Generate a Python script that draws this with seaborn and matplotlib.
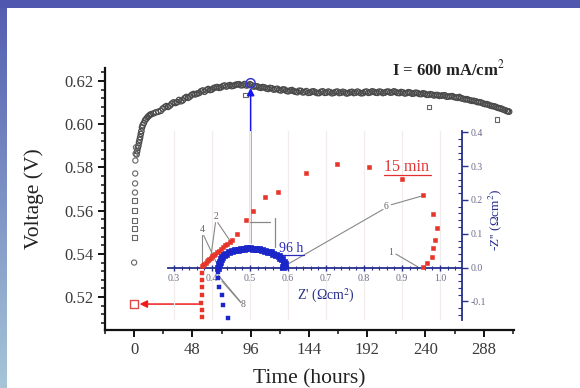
import matplotlib
matplotlib.use("Agg")
import numpy as np
import pandas as pd
import seaborn as sns
import matplotlib.pyplot as plt
from matplotlib.ticker import MultipleLocator, FormatStrFormatter

# ---------------- cell voltage at I = 600 mA/cm2 ----------------
# first hour of operation (voltage climbing after start-up)
t_col_sq = [0.2, 0.3, 0.4, 0.5, 0.6]
v_col_sq = [0.5477, 0.5519, 0.5556, 0.5602, 0.5648]
t_col_o = [0.0, 0.7, 0.8, 0.9, 1.0, 1.2, 1.5]
v_col_o = [0.536, 0.5684, 0.5726, 0.5772, 0.5832, 0.5864, 0.5893]

# continuous record
t_run = [2, 2.5, 3, 3.5, 4, 4.5, 5, 5.5, 6, 6.5, 7, 8, 9, 10, 11, 12, 13, 14, 16, 18, 20,
         22, 25, 28, 31, 34, 37, 40, 43, 46, 49, 52, 55, 58, 61, 64, 67, 70, 73, 76, 79,
         82, 85, 88, 91, 94, 97, 100, 103, 106, 109, 112, 115, 118, 121, 124, 127, 130,
         133, 136, 139, 142, 145, 148, 151, 154, 157, 160, 163, 166, 169, 172, 175, 178,
         181, 184, 187, 190, 193, 196, 199, 202, 205, 208, 211, 214, 217, 220, 223, 226,
         229, 232, 235, 238, 241, 244, 247, 250, 253, 256, 259, 262, 265, 268, 271, 274,
         277, 280, 283, 286, 289, 292, 295, 298, 301, 304, 307, 309]
v_run = [0.5860, 0.5875, 0.5890, 0.5900, 0.5915, 0.5928, 0.5940, 0.5955, 0.5968, 0.5985,
         0.5995, 0.6005, 0.6018, 0.6025, 0.6032, 0.6038, 0.6043, 0.6046, 0.6050, 0.6055,
         0.6058, 0.6062, 0.6078, 0.6080, 0.6095, 0.6098, 0.6112, 0.6110, 0.6126, 0.6128,
         0.6140, 0.6142, 0.6152, 0.6150, 0.6163, 0.6160, 0.6170, 0.6168, 0.6176, 0.6174,
         0.6181, 0.6178, 0.6184, 0.6180, 0.6186, 0.6181, 0.6180, 0.6176, 0.6170, 0.6172,
         0.6165, 0.6168, 0.6160, 0.6164, 0.6156, 0.6160, 0.6152, 0.6158, 0.6150, 0.6155,
         0.6147, 0.6153, 0.6146, 0.6152, 0.6144, 0.6150, 0.6145, 0.6151, 0.6143, 0.6149,
         0.6144, 0.6150, 0.6142, 0.6148, 0.6144, 0.6151, 0.6143, 0.6149, 0.6145, 0.6152,
         0.6146, 0.6151, 0.6144, 0.6150, 0.6146, 0.6152, 0.6145, 0.6149, 0.6142, 0.6148,
         0.6141, 0.6146, 0.6140, 0.6143, 0.6136, 0.6139, 0.6133, 0.6135, 0.6132, 0.6134,
         0.6128, 0.6130, 0.6124, 0.6126, 0.6118, 0.6116, 0.6110, 0.6108, 0.6102, 0.6100,
         0.6093, 0.6090, 0.6084, 0.6080, 0.6074, 0.6068, 0.6061, 0.6058]

# readings logged in between the ones above
t_run_b = [23.5, 26.5, 29.5, 32.5, 35.5, 38.5, 41.5, 44.5, 47.5, 50.5, 53.5, 56.5, 59.5,
           62.5, 65.5, 68.5, 71.5, 74.5, 77.5, 80.5, 83.5, 86.5, 89.5, 92.5, 95.5, 98.5,
           101.5, 104.5, 107.5, 110.5, 113.5, 116.5, 119.5, 122.5, 125.5, 128.5, 131.5,
           134.5, 137.5, 140.5, 143.5, 146.5, 149.5, 152.5, 155.5, 158.5, 161.5, 164.5,
           167.5, 170.5, 173.5, 176.5, 179.5, 182.5, 185.5, 188.5, 191.5, 194.5, 197.5,
           200.5, 203.5, 206.5, 209.5, 212.5, 215.5, 218.5, 221.5, 224.5, 227.5, 230.5,
           233.5, 236.5, 239.5, 242.5, 245.5, 248.5, 251.5, 254.5, 257.5, 260.5, 263.5,
           266.5, 269.5, 272.5, 275.5, 278.5, 281.5, 284.5, 287.5, 290.5, 293.5, 296.5,
           299.5, 302.5, 305.5, 308.0]
v_run_b = [0.6072, 0.6084, 0.6086, 0.6101, 0.6102, 0.6106, 0.6120, 0.6122, 0.6136, 0.6138,
           0.6144, 0.6156, 0.6157, 0.6158, 0.6167, 0.6172, 0.6170, 0.6179, 0.6178, 0.6176,
           0.6182, 0.6185, 0.6181, 0.6179, 0.6185, 0.6174, 0.6175, 0.6168, 0.6170, 0.6163,
           0.6166, 0.6162, 0.6158, 0.6161, 0.6154, 0.6156, 0.6153, 0.6148, 0.6154, 0.6149,
           0.6145, 0.6151, 0.6147, 0.6144, 0.6152, 0.6146, 0.6148, 0.6145, 0.6151, 0.6146,
           0.6147, 0.6144, 0.6150, 0.6146, 0.6147, 0.6144, 0.6151, 0.6147, 0.6150, 0.6145,
           0.6149, 0.6146, 0.6151, 0.6147, 0.6149, 0.6144, 0.6147, 0.6144, 0.6146, 0.6142,
           0.6144, 0.6139, 0.6141, 0.6136, 0.6137, 0.6135, 0.6131, 0.6133, 0.6127, 0.6129,
           0.6126, 0.6122, 0.6120, 0.6115, 0.6113, 0.6108, 0.6106, 0.6102, 0.6096, 0.6093,
           0.6086, 0.6083, 0.6076, 0.6072, 0.6065, 0.6060]

# stray points below the main trace
t_stray = [92, 243, 299]
v_stray = [0.6135, 0.6080, 0.6020]

# points where impedance spectra were taken
t_eis_15min, v_eis_15min = 0.0, 0.5168
t_eis_96h, v_eis_96h = 96.0, 0.6190

# ---------------- impedance spectra (Nyquist) ----------------
# 15 min: inductive tail below the axis, then the capacitive arc
zr_15min_tail = [0.373, 0.374, 0.372, 0.374, 0.373, 0.374, 0.373]
zi_15min_tail = [-0.147, -0.126, -0.105, -0.081, -0.058, -0.037, -0.015]
zr_15min = [0.374, 0.377, 0.380, 0.383, 0.386, 0.389, 0.392, 0.396, 0.400, 0.404, 0.408,
            0.413, 0.418, 0.423, 0.428, 0.434, 0.440, 0.446, 0.453,
            0.466, 0.489, 0.508, 0.539, 0.574, 0.647, 0.729, 0.813, 0.900, 0.955,
            0.982, 0.992, 0.987, 0.982, 0.979, 0.966, 0.955]
zi_15min = [0.004, 0.008, 0.012, 0.014, 0.019, 0.022, 0.024, 0.029, 0.033, 0.036, 0.041,
            0.045, 0.050, 0.056, 0.060, 0.066, 0.071, 0.077, 0.081,
            0.099, 0.141, 0.167, 0.209, 0.223, 0.279, 0.306, 0.297, 0.262, 0.215,
            0.159, 0.118, 0.082, 0.059, 0.032, 0.015, 0.003]

# 96 h
zr_96h_tail = [0.442, 0.429, 0.426, 0.418, 0.416, 0.416]
zi_96h_tail = [-0.149, -0.111, -0.081, -0.058, -0.030, -0.012]
zr_96h = [0.416, 0.418, 0.420, 0.423, 0.427, 0.432, 0.438, 0.445, 0.452, 0.460, 0.468,
          0.476, 0.484, 0.492, 0.500, 0.508, 0.516, 0.524, 0.532, 0.540, 0.547, 0.554,
          0.561, 0.568, 0.575, 0.580, 0.585, 0.589, 0.591, 0.590, 0.587]
zi_96h = [0.000, 0.010, 0.018, 0.025, 0.031, 0.037, 0.041, 0.045, 0.048, 0.051, 0.053,
          0.055, 0.056, 0.057, 0.057, 0.056, 0.055, 0.054, 0.052, 0.049, 0.047, 0.045,
          0.041, 0.037, 0.033, 0.028, 0.024, 0.018, 0.012, 0.006, 0.003]

# frequency markers on the spectra: label, text position, line ends
freq_labels = ["4", "2", "8", "6", "1"]
freq_text = [(0.374, 0.112), (0.411, 0.150), (0.482, -0.110), (0.858, 0.180), (0.871, 0.046)]
freq_lines = [
    [((0.374, 0.095), (0.374, 0.004)), ((0.378, 0.095), (0.416, 0.004))],
    [((0.409, 0.133), (0.395, 0.016)), ((0.415, 0.133), (0.453, 0.070))],
    [((0.474, -0.100), (0.416, -0.022)), ((0.476, -0.104), (0.426, -0.040))],
    [((0.872, 0.186), (0.953, 0.212)), ((0.850, 0.172), (0.590, 0.004))],
    [((0.884, 0.040), (0.942, 0.002))],
]
marker_lines = [((0.500, 0.135), (0.553, 0.135)), ((0.566, 0.146), (0.566, 0.061))]

# ---------------- styling ----------------
sns.set_theme(style="ticks")
plt.rcParams["font.family"] = ["Liberation Serif", "DejaVu Serif"]
plt.rcParams["mathtext.fontset"] = "stix"

fig = plt.figure(figsize=(5.8, 3.88), dpi=100)
fig.patch.set_facecolor("white")

# slide frame: solid band along the top, graded band down the left
grad = np.linspace(0, 1, 256)[:, None]
c_top = np.array([0x52, 0x5c, 0xb0]) / 255
c_bot = np.array([0xa6, 0xc6, 0xd8]) / 255
strip = (c_top[None, None, :] * (1 - grad[..., None]) + c_bot[None, None, :] * grad[..., None])
ax_strip = fig.add_axes([0, 0, 7 / 580, 1])
ax_strip.imshow(strip, aspect="auto", extent=(0, 1, 1, 0))
ax_strip.axis("off")
ax_band = fig.add_axes([0, 1 - 8 / 388, 1, 8 / 388])
ax_band.set_facecolor("#4f58ae")
ax_band.set_xticks([]); ax_band.set_yticks([])
for s in ax_band.spines.values():
    s.set_visible(False)

# ---------------- main axes ----------------
ax = fig.add_axes([105 / 580, 1 - 330 / 388, (514 - 105) / 580, (330 - 68) / 388])
ax.patch.set_alpha(0)
edge = "#4a4a4a"
sns.scatterplot(x=t_run + t_run_b, y=v_run + v_run_b, ax=ax, marker="o", s=15,
                facecolors="none", edgecolors=edge, linewidth=0.9, zorder=3)
sns.scatterplot(x=t_col_o, y=v_col_o, ax=ax, marker="o", s=14, facecolors="none",
                edgecolors="#666666", linewidth=0.8, zorder=3)
sns.scatterplot(x=t_col_sq + t_stray, y=v_col_sq + v_stray, ax=ax, marker="s", s=12,
                facecolors="none", edgecolors="#666666", linewidth=0.8, zorder=3)
sns.scatterplot(x=[t_eis_15min], y=[v_eis_15min], ax=ax, marker="s", s=34,
                facecolors="none", edgecolors="#e04848", linewidth=1.0, zorder=4)
sns.scatterplot(x=[t_eis_96h], y=[v_eis_96h], ax=ax, marker="o", s=42,
                facecolors="none", edgecolors="#3a3ad0", linewidth=1.1, zorder=4)

ax.set_xlim(-24, 313)
ax.set_ylim(0.5048, 0.626)
ax.set_xticks([0, 48, 96, 144, 192, 240, 288])
ax.xaxis.set_minor_locator(MultipleLocator(24))
ax.set_yticks([0.52, 0.54, 0.56, 0.58, 0.60, 0.62])
ax.yaxis.set_minor_locator(MultipleLocator(0.004))
ax.yaxis.set_major_formatter(FormatStrFormatter("%.2f"))
for side in ("top", "right"):
    ax.spines[side].set_visible(False)
for side in ("left", "bottom"):
    ax.spines[side].set_linewidth(1.6)
    ax.spines[side].set_color("#111111")
ax.tick_params(which="major", direction="out", length=5, width=1.4, labelsize=12,
               labelcolor="#3a3a3a", color="#111111")
ax.tick_params(which="minor", direction="out", length=3, width=1.1, color="#111111")
ax.set_xlabel("Time (hours)", fontsize=15.5, color="#222222", labelpad=8)
ax.set_ylabel("Voltage (V)", fontsize=15.5, color="#222222", labelpad=14)

ax.text(259, 0.6252, "I = 600 mA/cm$^{2}$", ha="center", va="center",
        fontsize=12, fontweight="bold", color="#222222")

# arrows tying each spectrum to its point on the voltage record
ax.annotate("", xy=(96, 0.6168), xytext=(96, 0.5448),
            arrowprops=dict(arrowstyle="-|>", color="#1616f0", lw=1.1,
                            mutation_scale=11, shrinkA=0, shrinkB=0), zorder=5)
ax.annotate("", xy=(4.5, v_eis_15min), xytext=(53, v_eis_15min),
            arrowprops=dict(arrowstyle="-|>", color="#ee1c1c", lw=1.1,
                            mutation_scale=11, shrinkA=0, shrinkB=0), zorder=5)

# ---------------- Nyquist inset ----------------
navy = "#27308c"
red = "#e8352a"
blue = "#1a26c8"
axi = fig.add_axes([168 / 580, 1 - 320 / 388, (462 - 168) / 580, (320 - 131) / 388])
axi.patch.set_alpha(0)
axi.set_xlim(0.284, 1.058)
axi.set_ylim(-0.155, 0.404)

for xv in np.arange(0.3, 1.05, 0.1):
    axi.axvline(xv, color="#f2ecec", lw=0.9, zorder=0)

sns.scatterplot(x=zr_15min_tail, y=zi_15min_tail, ax=axi, marker="s", s=8, color=red,
                edgecolor=red, linewidth=0.3, zorder=3)
sns.scatterplot(x=zr_15min, y=zi_15min, ax=axi, marker="s", s=12, color=red,
                edgecolor=red, linewidth=0.4, zorder=3)
sns.scatterplot(x=zr_96h_tail, y=zi_96h_tail, ax=axi, marker="s", s=8, color=blue,
                edgecolor=blue, linewidth=0.3, zorder=3)
sns.scatterplot(x=zr_96h, y=zi_96h, ax=axi, marker="s", s=14, color=blue,
                edgecolor=blue, linewidth=0.5, zorder=3)

for lab, (xt, yt), segs in zip(freq_labels, freq_text, freq_lines):
    axi.text(xt, yt, lab, ha="center", va="center", fontsize=7, color="#666666")
    for (x0, y0), (x1, y1) in segs:
        axi.plot([x0, x1], [y0, y1], color="#888888", lw=0.8, zorder=2)
for (x0, y0), (x1, y1) in marker_lines:
    axi.plot([x0, x1], [y0, y1], color="#888888", lw=0.9, zorder=2)

axi.text(0.913, 0.297, "15 min", ha="center", va="center", fontsize=11.5, color="#e03030")
axi.plot([0.852, 0.976], [0.275, 0.275], color="#e03030", lw=0.9)
axi.text(0.609, 0.056, "96 h", ha="center", va="center", fontsize=10, color="#2a2ab8")
axi.plot([0.577, 0.641], [0.037, 0.037], color="#2a2ab8", lw=0.9)

axi.spines["left"].set_visible(False)
axi.spines["top"].set_visible(False)
axi.spines["bottom"].set_position(("data", 0))
axi.spines["bottom"].set_color(navy)
axi.spines["bottom"].set_linewidth(1.3)
axi.spines["right"].set_color(navy)
axi.spines["right"].set_linewidth(1.3)
axi.yaxis.tick_right()
axi.set_xticks([0.3, 0.4, 0.5, 0.6, 0.7, 0.8, 0.9, 1.0])
axi.xaxis.set_minor_locator(MultipleLocator(0.02))
axi.set_yticks([-0.1, 0.0, 0.1, 0.2, 0.3, 0.4])
axi.yaxis.set_minor_locator(MultipleLocator(0.02))
axi.xaxis.set_major_formatter(FormatStrFormatter("%.1f"))
axi.yaxis.set_major_formatter(FormatStrFormatter("%.1f"))
axi.tick_params(axis="x", which="major", direction="inout", length=5, width=1.0,
                color=navy, labelsize=7, labelcolor="#6a6a8a", pad=2)
axi.tick_params(axis="x", which="minor", direction="inout", length=3, width=0.8, color=navy)
axi.tick_params(axis="y", which="major", direction="out", length=4, width=1.0,
                color=navy, labelsize=7, labelcolor="#6a6a8a", pad=2)
axi.tick_params(axis="y", which="minor", direction="in", length=3, width=0.8, color=navy)

axi.text(0.70, -0.085, "Z' (Ωcm$^{2}$)", ha="center", va="center", fontsize=10, color=navy)
axi.text(1.112, 0.53, "-Z'' (Ωcm$^{2}$)", transform=axi.transAxes, rotation=90,
         ha="center", va="center", fontsize=9.5, color=navy)

fig.savefig("out.png", dpi=100)
